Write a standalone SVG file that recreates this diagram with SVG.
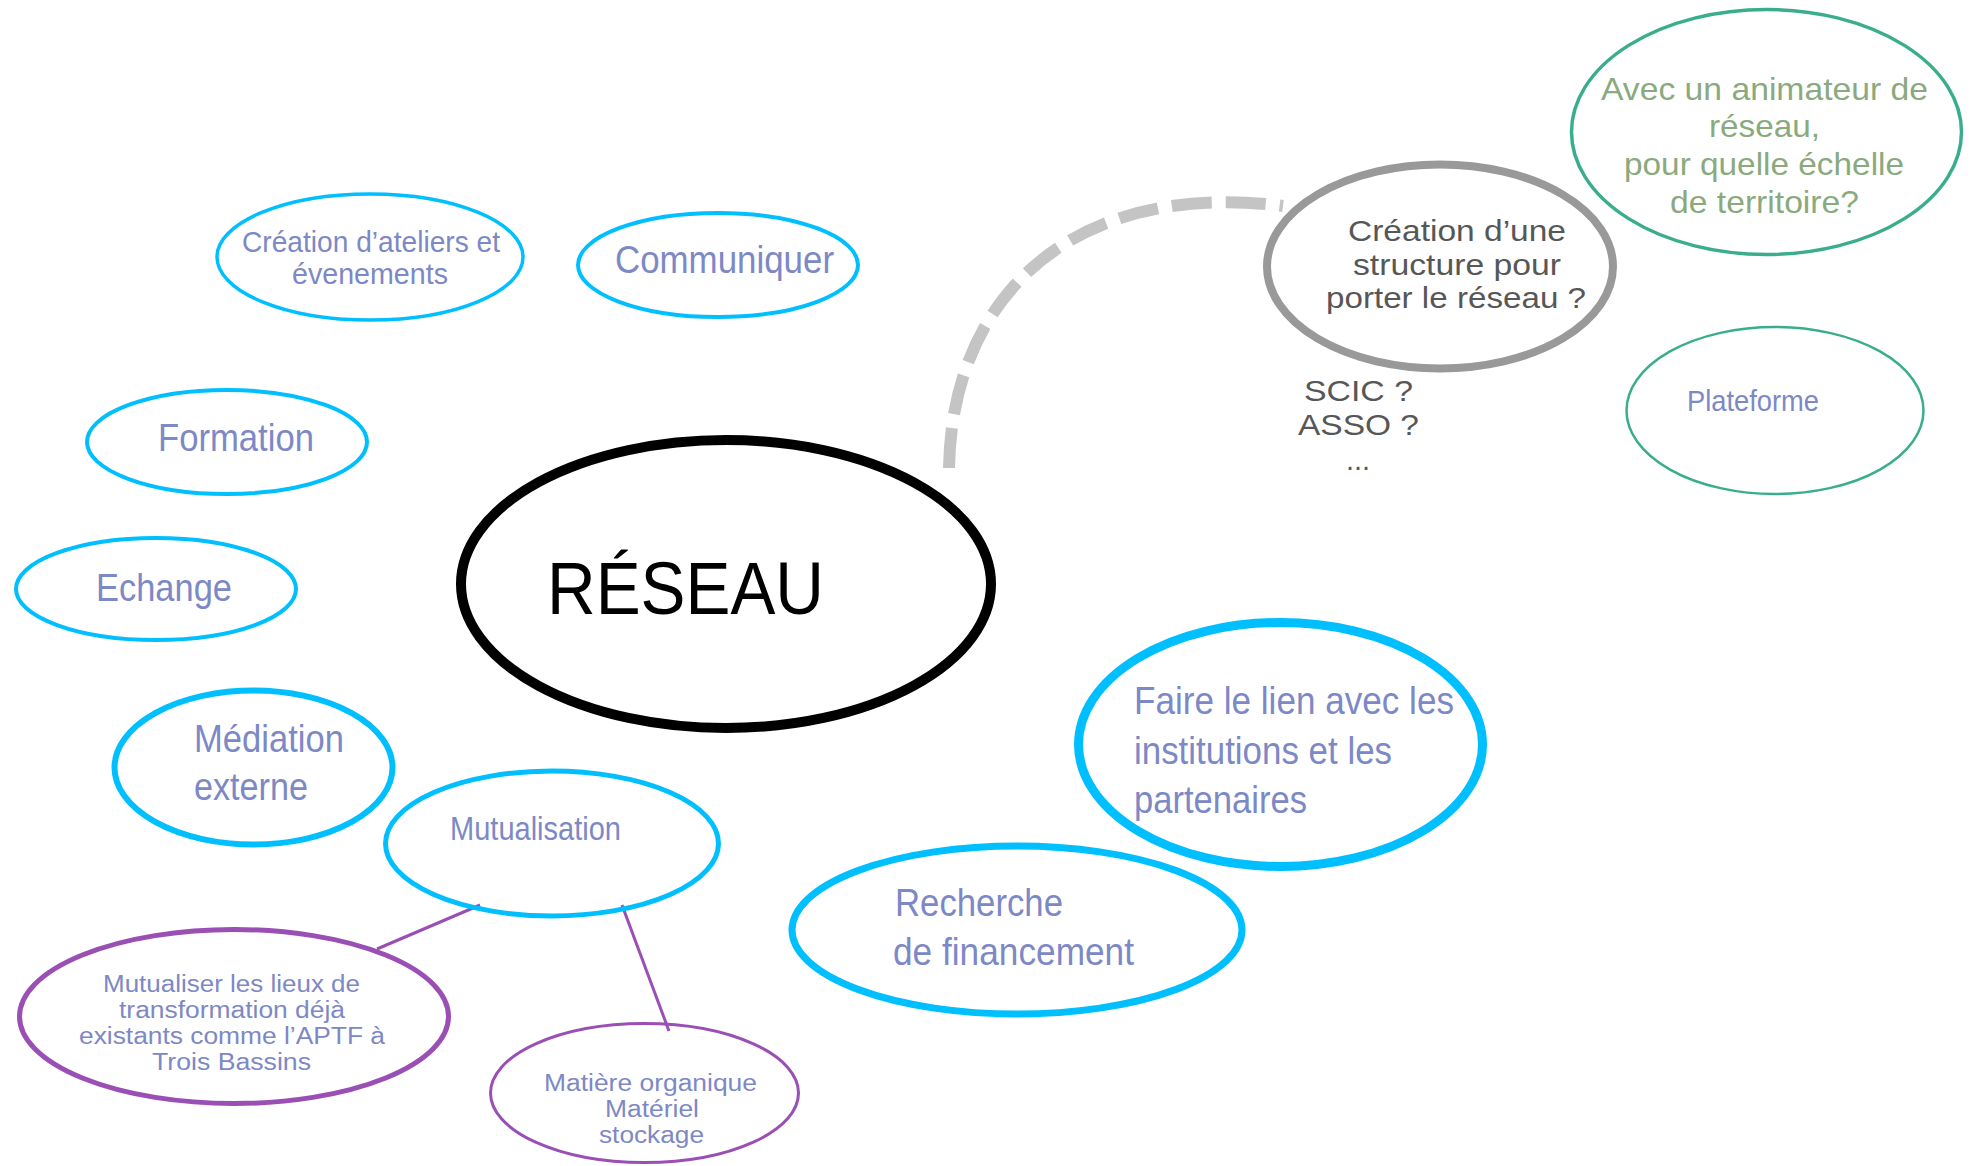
<svg xmlns="http://www.w3.org/2000/svg" width="1979" height="1166" viewBox="0 0 1979 1166">
<style>
text{font-family:"Liberation Sans",Arial,sans-serif}
.cy{fill:none;stroke:#00BFFF}
.pu{fill:none;stroke:#9A4FB4}
.gr{fill:none;stroke:#3AAE8C}
.bl{fill:#7D88C6}
.gt{fill:#575757}
.gn{fill:#8AAA7E}
</style>
<rect width="1979" height="1166" fill="#fff"/>
<g id="connectors">
<path d="M949 468 C952 290 1080 180 1283 206" fill="none" stroke="#C4C4C4" stroke-width="12" stroke-dasharray="40 14"/>
<line x1="480" y1="905" x2="377" y2="949" stroke="#9A4FB4" stroke-width="3"/>
<line x1="622" y1="905" x2="669" y2="1031" stroke="#9A4FB4" stroke-width="3"/>
</g>
<g id="reseau">
<ellipse cx="726" cy="584" rx="265" ry="144" fill="none" stroke="#000" stroke-width="10"/>
<text x="547" y="614" font-size="75" textLength="277" lengthAdjust="spacingAndGlyphs" fill="#000">RÉSEAU</text>
</g>
<g id="ateliers">
<ellipse class="cy" cx="370" cy="257" rx="153" ry="63" stroke-width="3.5"/>
<text class="bl" x="242" y="252" font-size="30" textLength="258" lengthAdjust="spacingAndGlyphs">Création d’ateliers et</text>
<text class="bl" x="292" y="284" font-size="30" textLength="156" lengthAdjust="spacingAndGlyphs">évenements</text>
</g>
<g id="communiquer">
<ellipse class="cy" cx="718" cy="265" rx="140" ry="52" stroke-width="4"/>
<text class="bl" x="615" y="273" font-size="39" textLength="219" lengthAdjust="spacingAndGlyphs">Communiquer</text>
</g>
<g id="formation">
<ellipse class="cy" cx="227" cy="442" rx="140" ry="52" stroke-width="4"/>
<text class="bl" x="158" y="451" font-size="39" textLength="156" lengthAdjust="spacingAndGlyphs">Formation</text>
</g>
<g id="echange">
<ellipse class="cy" cx="156" cy="589" rx="140" ry="51" stroke-width="4"/>
<text class="bl" x="96" y="601" font-size="39" textLength="136" lengthAdjust="spacingAndGlyphs">Echange</text>
</g>
<g id="mediation">
<ellipse class="cy" cx="253.5" cy="767.5" rx="139" ry="77" stroke-width="6"/>
<text class="bl" x="194" y="752" font-size="39" textLength="150" lengthAdjust="spacingAndGlyphs">Médiation</text>
<text class="bl" x="194" y="800" font-size="39" textLength="114" lengthAdjust="spacingAndGlyphs">externe</text>
</g>
<g id="mutualisation">
<ellipse class="cy" cx="552" cy="843.5" rx="166.5" ry="72.5" stroke-width="5"/>
<text class="bl" x="450" y="840" font-size="33" textLength="171" lengthAdjust="spacingAndGlyphs">Mutualisation</text>
</g>
<g id="lieux">
<ellipse class="pu" cx="234" cy="1016.5" rx="214.5" ry="87" stroke-width="5"/>
<text class="bl" x="103" y="992" font-size="23" textLength="257" lengthAdjust="spacingAndGlyphs">Mutualiser les lieux de</text>
<text class="bl" x="119" y="1018" font-size="23" textLength="226" lengthAdjust="spacingAndGlyphs">transformation déjà</text>
<text class="bl" x="79" y="1044" font-size="23" textLength="306" lengthAdjust="spacingAndGlyphs">existants comme l’APTF à</text>
<text class="bl" x="152" y="1070" font-size="23" textLength="159" lengthAdjust="spacingAndGlyphs">Trois Bassins</text>
</g>
<g id="matiere">
<ellipse class="pu" cx="644.5" cy="1093" rx="154" ry="69.5" stroke-width="3"/>
<text class="bl" x="544" y="1091" font-size="23" textLength="213" lengthAdjust="spacingAndGlyphs">Matière organique</text>
<text class="bl" x="605" y="1117" font-size="23" textLength="94" lengthAdjust="spacingAndGlyphs">Matériel</text>
<text class="bl" x="599" y="1143" font-size="23" textLength="105" lengthAdjust="spacingAndGlyphs">stockage</text>
</g>
<g id="structure">
<ellipse cx="1440" cy="266.5" rx="173" ry="102" fill="none" stroke="#999" stroke-width="8"/>
<text class="gt" x="1348" y="241" font-size="30" textLength="218" lengthAdjust="spacingAndGlyphs">Création d’une</text>
<text class="gt" x="1353" y="275" font-size="30" textLength="208" lengthAdjust="spacingAndGlyphs">structure pour</text>
<text class="gt" x="1326" y="308" font-size="30" textLength="260" lengthAdjust="spacingAndGlyphs">porter le réseau ?</text>
</g>
<g id="scic">
<text class="gt" x="1304" y="401" font-size="30" textLength="109" lengthAdjust="spacingAndGlyphs">SCIC ?</text>
<text class="gt" x="1298" y="435" font-size="30" textLength="121" lengthAdjust="spacingAndGlyphs">ASSO ?</text>
<text class="gt" x="1346" y="470" font-size="30" textLength="24" lengthAdjust="spacingAndGlyphs">...</text>
</g>
<g id="animateur">
<ellipse class="gr" cx="1766.5" cy="132" rx="195" ry="122.5" stroke-width="3.5"/>
<text class="gn" x="1601" y="100" font-size="32" textLength="327" lengthAdjust="spacingAndGlyphs">Avec un animateur de</text>
<text class="gn" x="1709" y="137" font-size="32" textLength="111" lengthAdjust="spacingAndGlyphs">réseau,</text>
<text class="gn" x="1624" y="175" font-size="32" textLength="280" lengthAdjust="spacingAndGlyphs">pour quelle échelle</text>
<text class="gn" x="1670" y="213" font-size="32" textLength="189" lengthAdjust="spacingAndGlyphs">de territoire?</text>
</g>
<g id="plateforme">
<ellipse class="gr" cx="1775" cy="410.5" rx="148.5" ry="83.5" stroke-width="2.5"/>
<text class="bl" x="1687" y="411" font-size="30" textLength="132" lengthAdjust="spacingAndGlyphs">Plateforme</text>
</g>
<g id="lien">
<ellipse class="cy" cx="1280.5" cy="744.5" rx="202" ry="122" stroke-width="9"/>
<text class="bl" x="1134" y="714" font-size="38" textLength="320" lengthAdjust="spacingAndGlyphs">Faire le lien avec les</text>
<text class="bl" x="1134" y="764" font-size="38" textLength="258" lengthAdjust="spacingAndGlyphs">institutions et les</text>
<text class="bl" x="1134" y="813" font-size="38" textLength="173" lengthAdjust="spacingAndGlyphs">partenaires</text>
</g>
<g id="financement">
<ellipse class="cy" cx="1017" cy="930" rx="225" ry="84" stroke-width="7"/>
<text class="bl" x="895" y="916" font-size="39" textLength="168" lengthAdjust="spacingAndGlyphs">Recherche</text>
<text class="bl" x="893" y="965" font-size="39" textLength="241" lengthAdjust="spacingAndGlyphs">de financement</text>
</g>
</svg>
